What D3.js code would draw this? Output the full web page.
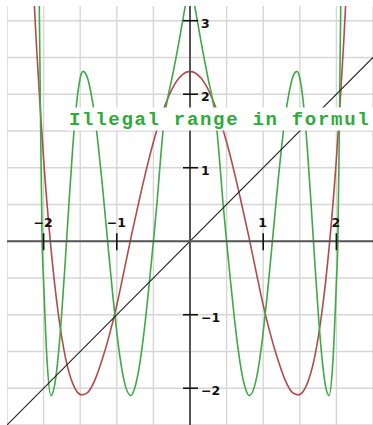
<!DOCTYPE html>
<html>
<head>
<meta charset="utf-8">
<script src="https://cdn.jsdelivr.net/npm/d3@7"></script>
<style>
  html, body { margin: 0; padding: 0; background: #fff; overflow: hidden; }
  svg { display: block; }
</style>
</head>
<body>
<svg id="chart" width="373" height="425"></svg>
<script>
// Axis ticks and their labels
const xTicks = [-2, -1, 1, 2];
const xTickLabels = ["\u22122", "\u22121", "1", "2"];
const yTicks = [-2, -1, 1, 2, 3];
const yTickLabels = ["\u22122", "\u22121", "1", "2", "3"];

// Grid lines every half unit
const gridX = [-2.5, -2, -1.5, -1, -0.5, 0, 0.5, 1, 1.5, 2, 2.5];
const gridY = [-2.5, -2, -1.5, -1, -0.5, 0, 0.5, 1, 1.5, 2, 2.5, 3];

// Straight line y = x
const diagX = [-2.5, 2.5];
const diagY = [-2.5, 2.5];

// Red quartic-shaped curve
const redX = [-2.2, -2.15, -2.1, -2.05, -2.0, -1.9, -1.8, -1.7, -1.6, -1.48, -1.4, -1.3, -1.2, -1.1, -1.0,
  -0.9, -0.8, -0.7, -0.6, -0.5, -0.4, -0.3, -0.2, -0.1, 0,
  0.1, 0.2, 0.3, 0.4, 0.5, 0.6, 0.7, 0.8, 0.9, 1.0, 1.1, 1.2, 1.3, 1.4, 1.48, 1.6, 1.7, 1.8, 1.9,
  2.0, 2.05, 2.1, 2.15, 2.2];
const redY = [4.73, 3.67, 2.71, 1.87, 1.12, -0.09, -0.98, -1.59, -1.94, -2.09, -2.06, -1.89, -1.61, -1.27, -0.87,
  -0.40, 0.08, 0.53, 0.96, 1.35, 1.68, 1.95, 2.15, 2.27, 2.31,
  2.27, 2.15, 1.95, 1.68, 1.35, 0.96, 0.53, 0.08, -0.40, -0.87, -1.27, -1.61, -1.89, -2.06, -2.09, -1.94, -1.59, -0.98, -0.09,
  1.12, 1.87, 2.71, 3.67, 4.73];

// Green oscillating curve
const greenX = [-2.08, -2.06, -2.04, -2.02, -2.0, -1.95, -1.9, -1.85, -1.8, -1.75, -1.7, -1.65, -1.6, -1.55, -1.5,
  -1.46, -1.4, -1.35, -1.3, -1.25, -1.2, -1.15, -1.1, -1.05, -1.0, -0.95, -0.9, -0.81, -0.75, -0.7, -0.65,
  -0.6, -0.55, -0.5, -0.45, -0.4, -0.35, -0.3, -0.25, -0.2, -0.15, -0.1, -0.05, 0,
  0.05, 0.1, 0.15, 0.2, 0.25, 0.3, 0.35, 0.4, 0.45, 0.5, 0.55, 0.6, 0.65, 0.7, 0.75, 0.81, 0.9, 0.95,
  1.0, 1.05, 1.1, 1.15, 1.2, 1.25, 1.3, 1.35, 1.4, 1.46, 1.5, 1.55, 1.6, 1.65, 1.7, 1.75, 1.8, 1.85, 1.9,
  1.95, 2.0, 2.02, 2.04, 2.06, 2.08];
const greenY = [5.4, 3.3, 1.5, 0, -0.55, -1.67, -2.1, -1.96, -1.56, -0.95, -0.21, 0.57, 1.3, 1.87, 2.22,
  2.31, 2.22, 2.0, 1.69, 1.27, 0.79, 0.26, -0.27, -0.78, -1.24, -1.62, -1.9, -2.1, -1.98, -1.75, -1.41,
  -0.99, -0.51, 0, 0.53, 1.15, 1.68, 1.97, 2.2, 2.45, 2.72, 3.0, 3.27, 3.45,
  3.27, 3.0, 2.72, 2.45, 2.2, 1.97, 1.68, 1.15, 0.53, 0, -0.51, -0.99, -1.41, -1.75, -1.98, -2.1, -1.9, -1.62,
  -1.24, -0.78, -0.27, 0.26, 0.79, 1.27, 1.69, 2.0, 2.22, 2.31, 2.22, 1.87, 1.3, 0.57, -0.21, -0.95, -1.56, -1.96, -2.1,
  -1.67, -0.55, 0, 1.5, 3.3, 5.4];

const message = "Illegal range in formul";

const svg = d3.select("#chart");
const plotLeft = 7, plotRight = 373, plotTop = 6, plotBottom = 425;

const x = d3.scaleLinear().domain([-2.5, 2.5]).range([plotLeft, plotRight]);
const y = d3.scaleLinear().domain([-2.5, 3.2]).range([plotBottom, plotTop]);

svg.append("defs").append("clipPath").attr("id", "plot")
  .append("rect").attr("x", plotLeft).attr("y", plotTop)
  .attr("width", plotRight - plotLeft).attr("height", plotBottom - plotTop);

const plot = svg.append("g").attr("clip-path", "url(#plot)");

// grid
plot.append("g").selectAll("line").data(gridX).join("line")
  .attr("x1", d => x(d)).attr("x2", d => x(d))
  .attr("y1", plotTop).attr("y2", plotBottom)
  .attr("stroke", "#d6d6d6").attr("stroke-width", 1.4);
plot.append("g").selectAll("line").data(gridY).join("line")
  .attr("x1", plotLeft).attr("x2", plotRight)
  .attr("y1", d => y(d)).attr("y2", d => y(d))
  .attr("stroke", "#d6d6d6").attr("stroke-width", 1.4);

const toPts = (xs, ys) => xs.map((v, i) => [v, ys[i]]);
const smooth = d3.line().x(d => x(d[0])).y(d => y(d[1])).curve(d3.curveMonotoneX);

plot.append("path").datum(toPts(redX, redY)).attr("d", smooth)
  .attr("fill", "none").attr("stroke", "#b24a4c").attr("stroke-width", 1.6);
plot.append("path").datum(toPts(greenX, greenY)).attr("d", smooth)
  .attr("fill", "none").attr("stroke", "#3daa45").attr("stroke-width", 1.6);
plot.append("path").datum(toPts(diagX, diagY))
  .attr("d", d3.line().x(d => x(d[0])).y(d => y(d[1])))
  .attr("fill", "none").attr("stroke", "#222").attr("stroke-width", 1.1);

// axes
plot.append("line").attr("x1", plotLeft).attr("x2", plotRight)
  .attr("y1", y(0)).attr("y2", y(0)).attr("stroke", "#555").attr("stroke-width", 2);
plot.append("line").attr("x1", x(0)).attr("x2", x(0))
  .attr("y1", plotTop).attr("y2", plotBottom).attr("stroke", "#555").attr("stroke-width", 2);

// ticks
plot.append("g").selectAll("line").data(xTicks).join("line")
  .attr("x1", d => x(d)).attr("x2", d => x(d))
  .attr("y1", y(0) - 8).attr("y2", y(0) + 9)
  .attr("stroke", "#111").attr("stroke-width", 1.6);
plot.append("g").selectAll("line").data(yTicks).join("line")
  .attr("x1", x(0) - 7).attr("x2", x(0) + 8)
  .attr("y1", d => y(d)).attr("y2", d => y(d))
  .attr("stroke", "#111").attr("stroke-width", 1.6);

// tick labels
const labelFont = { family: "DejaVu Sans", size: "12.5px", weight: "bold" };
plot.append("g").selectAll("text").data(xTicks).join("text")
  .attr("x", d => x(d) - 0.5).attr("y", y(0) - 14)
  .attr("text-anchor", "middle")
  .attr("font-family", labelFont.family).attr("font-size", labelFont.size)
  .attr("font-weight", labelFont.weight).attr("fill", "#111")
  .text((d, i) => xTickLabels[i]);
plot.append("g").selectAll("text").data(yTicks).join("text")
  .attr("x", x(0) + 11).attr("y", d => y(d) + 7)
  .attr("text-anchor", "start")
  .attr("font-family", labelFont.family).attr("font-size", labelFont.size)
  .attr("font-weight", labelFont.weight).attr("fill", "#111")
  .text((d, i) => yTickLabels[i]);

// message banner with blank backing
plot.append("rect").attr("x", 68).attr("y", 107.5)
  .attr("width", plotRight - 68).attr("height", 23).attr("fill", "#fff");
plot.append("text").attr("x", 69).attr("y", 125)
  .attr("font-family", "Liberation Mono").attr("font-size", "19px")
  .attr("font-weight", "bold").attr("letter-spacing", "1.7px")
  .attr("fill", "#2eaa3a")
  .text(message);
</script>
</body>
</html>
